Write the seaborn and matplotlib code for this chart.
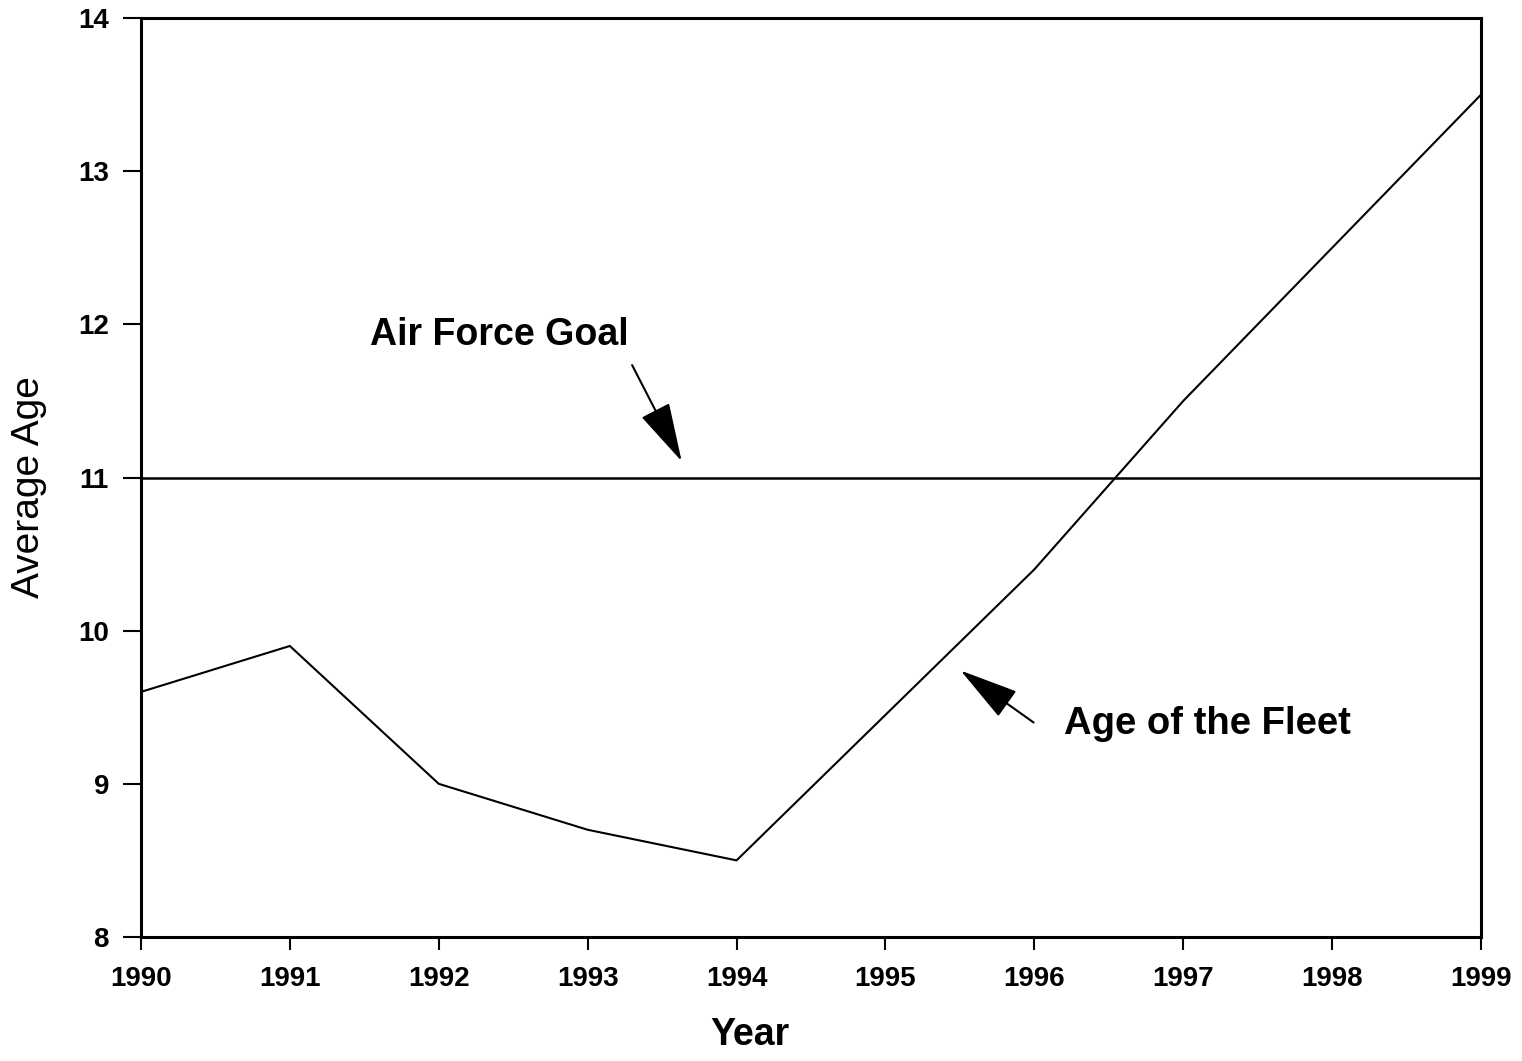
import pandas as pd
import numpy as np
import matplotlib.pyplot as plt
import seaborn as sns

years = [1990, 1991, 1992, 1993, 1994, 1995, 1996, 1997, 1998, 1999]
fleet_age = [9.6, 9.9, 9.0, 8.7, 8.5, 9.45, 10.4, 11.5, 12.5, 13.5]
goal_age = 11
y_ticks = [8, 9, 10, 11, 12, 13, 14]

sns.set_style('ticks')
plt.rcParams['font.family'] = ['Liberation Sans', 'DejaVu Sans']
plt.rcParams['text.color'] = 'black'
plt.rcParams['axes.labelcolor'] = 'black'
plt.rcParams['xtick.color'] = 'black'
plt.rcParams['ytick.color'] = 'black'

df = pd.DataFrame({'Year': years, 'Average Age': fleet_age})

fig = plt.figure(figsize=(15.22, 10.61), dpi=100)
ax = fig.add_axes([0.0926, 0.1169, 0.8805, 0.8661])

sns.lineplot(data=df, x='Year', y='Average Age', color='black', linewidth=1.5, ax=ax)
ax.axhline(goal_age, color='black', linewidth=1.8)

ax.set_xlim(years[0], years[-1])
ax.set_ylim(y_ticks[0], y_ticks[-1])
ax.set_xticks(years)
ax.set_yticks(y_ticks)
ax.tick_params(axis='y', direction='out', length=13, width=1.5, pad=10, labelsize=20)
ax.tick_params(axis='x', direction='out', length=9, width=1.5, pad=12, labelsize=20)
for lab in ax.get_xticklabels() + ax.get_yticklabels():
    lab.set_fontweight('bold')
for sp in ax.spines.values():
    sp.set_linewidth(2.2)
    sp.set_color('black')

ax.set_xlabel('')
ax.set_ylabel('Average Age', fontsize=28)
ax.yaxis.set_label_coords(-0.07, 0.49)
fig.text(750 / 1522, 1 - 1035 / 1061, 'Year', fontsize=27, fontweight='bold',
         ha='center', va='center')

head = '-|>,head_length=0.75,head_width=0.2'
ax.annotate('', xy=(1993.64, 11.09), xytext=(1993.29, 11.75),
            arrowprops=dict(arrowstyle=head, color='black', lw=1.5, mutation_scale=50))
ax.text(1991.54, 11.93, 'Air Force Goal', fontsize=27, fontweight='bold', va='center', ha='left')

ax.annotate('', xy=(1995.49, 9.75), xytext=(1996.01, 9.39),
            arrowprops=dict(arrowstyle=head, color='black', lw=1.5, mutation_scale=50))
ax.text(1996.2, 9.39, 'Age of the Fleet', fontsize=27.5, fontweight='bold', va='center', ha='left')

fig.savefig('out.png', dpi=100)
